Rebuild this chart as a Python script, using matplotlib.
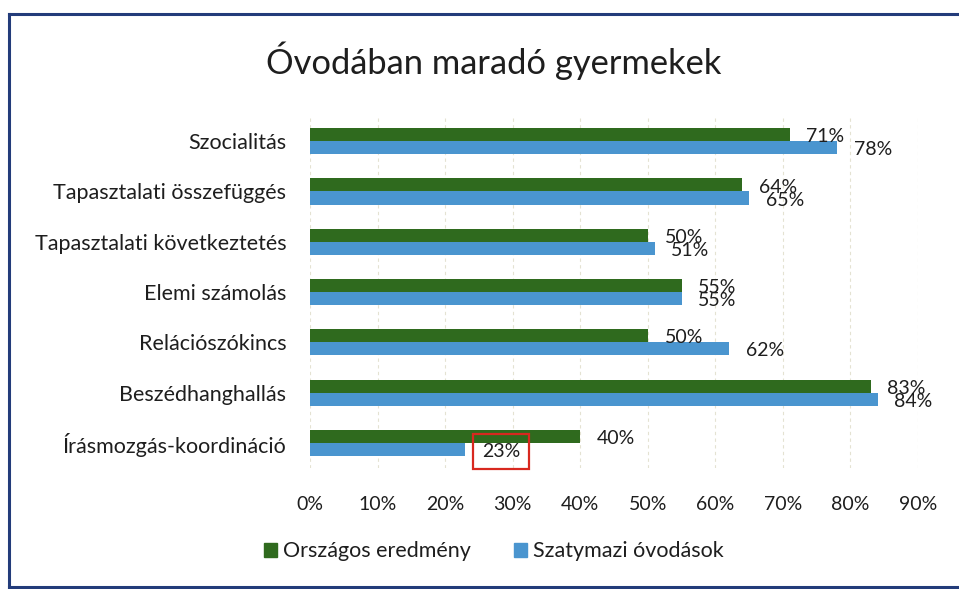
import numpy as np
import matplotlib
matplotlib.use("Agg")
from matplotlib import pyplot as plt
from matplotlib.lines import Line2D
from matplotlib.patches import Patch
from matplotlib.ticker import PercentFormatter

plt.rcParams['font.family'] = ['Lato', 'DejaVu Sans']

categories = ["Szocialitás", "Tapasztalati összefüggés", "Tapasztalati következtetés",
              "Elemi számolás", "Relációszókincs", "Beszédhanghallás",
              "Írásmozgás-koordináció"]
orszagos = [71, 64, 50, 55, 50, 83, 40]
szatymaz = [78, 65, 51, 55, 62, 84, 23]
series_names = ["Országos eredmény", "Szatymazi óvodások"]
xticks = [0, 10, 20, 30, 40, 50, 60, 70, 80, 90]

green = "#2f6a1e"
blue = "#4a95cf"
txt = "#1e1e1e"

fig = plt.figure(figsize=(9.59, 5.89), dpi=100)
ax = fig.add_axes([0.3233, 0.2054, 0.634, 0.5976])

y = np.arange(len(categories))
h = 0.26
gbars = ax.barh(y - h / 2, orszagos, height=h, color=green)
bbars = ax.barh(y + h / 2, szatymaz, height=h, color=blue)

# data labels just past the bar ends
for bars, vals in [(gbars, orszagos), (bbars, szatymaz)]:
    for b, v in zip(bars, vals):
        t = ax.annotate(f"{v}%", (v, b.get_y() + b.get_height() / 2),
                        xytext=(12, -1.5), textcoords="offset points",
                        ha="left", va="center", fontsize=14, color=txt)
        if bars is bbars and v == 23:
            t.set_bbox(dict(boxstyle="square,pad=0.45", fc="none",
                            ec="#d8281f", lw=1.6))

ax.set_xlim(0, 90)
ax.set_ylim(len(categories) - 0.5, -0.5)
ax.set_xticks(xticks)
ax.xaxis.set_major_formatter(PercentFormatter(decimals=0))
ax.set_yticks(y)
ax.set_yticklabels(categories)
ax.tick_params(axis="both", length=0, colors=txt)
ax.tick_params(axis="x", pad=20, labelsize=14)
ax.tick_params(axis="y", pad=17, labelsize=15.5)
for s in ax.spines.values():
    s.set_visible(False)
ax.grid(axis="x", color="#e4e2d2", lw=0.8, linestyle=(0, (3, 3)))
ax.set_axisbelow(True)

fig.text(0.515, 0.897, "Óvodában maradó gyermekek", ha="center", va="center",
         fontsize=24.8, color=txt)

handles = [Patch(color=green), Patch(color=blue)]
fig.legend(handles, series_names, loc="center", bbox_to_anchor=(0.515, 0.064),
           ncol=2, frameon=False, fontsize=15.5, handlelength=0.6,
           handleheight=0.6, handletextpad=0.3, columnspacing=2.0,
           labelcolor=txt)

# chart frame (left, top, bottom edges)
frame = dict(color="#233c7a", lw=2.2, transform=fig.transFigure)
fig.add_artist(Line2D([9 / 959, 9 / 959], [1 - 14 / 589, 1 - 587 / 589], **frame))
fig.add_artist(Line2D([9 / 959, 1], [1 - 14 / 589, 1 - 14 / 589], **frame))
fig.add_artist(Line2D([9 / 959, 1], [1 - 587 / 589, 1 - 587 / 589], **frame))

fig.savefig("out.png", dpi=100)
